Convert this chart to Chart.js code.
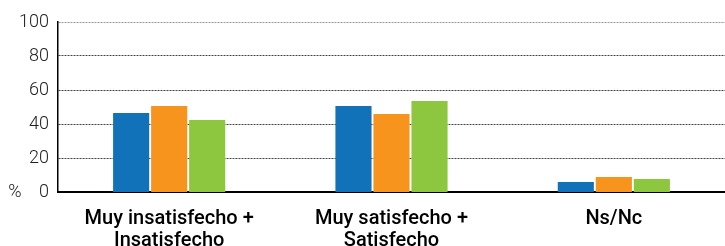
<!DOCTYPE html>
<html>
<head>
<meta charset="utf-8">
<script src="https://cdn.jsdelivr.net/npm/chart.js@4"></script>
<style>
  html, body { margin: 0; padding: 0; background: #fff; }
  #wrap { width: 725px; height: 246px; }
</style>
</head>
<body>
<div id="wrap"><canvas id="chart"></canvas></div>
<script>
// datos
const categories = [
  ['Muy insatisfecho +', 'Insatisfecho'],
  ['Muy satisfecho +', 'Satisfecho'],
  ['Ns/Nc']
];
const serieAzul = [46.5, 50.6, 5.9];
const serieNaranja = [50.6, 45.9, 8.8];
const serieVerde = [42.4, 53.5, 7.6];
const yTicks = [0, 20, 40, 60, 80, 100];

const ctx = document.getElementById('chart').getContext('2d');
new Chart(ctx, {
  type: 'bar',
  data: {
    labels: categories,
    datasets: [
      { data: serieAzul, backgroundColor: '#1172ba' },
      { data: serieNaranja, backgroundColor: '#f7941e' },
      { data: serieVerde, backgroundColor: '#8dc63f' }
    ]
  },
  options: {
    responsive: true,
    maintainAspectRatio: false,
    animation: false,
    layout: { padding: { top: 22, right: 0, bottom: 0, left: 0 } },
    plugins: { legend: { display: false }, tooltip: { enabled: false } },
    datasets: { bar: { categoryPercentage: 0.513, barPercentage: 0.95 } },
    scales: {
      x: {
        grid: { display: false },
        border: { color: '#000', width: 2 },
        ticks: {
          color: '#000',
          padding: 8,
          maxRotation: 0,
          font: { family: 'Roboto', size: 20, weight: '500', lineHeight: 1.1 }
        },
        afterFit: function(axis) { axis.height = 54; }
      },
      y: {
        min: 0,
        max: 100,
        afterBuildTicks: function(axis) {
          axis.ticks = yTicks.map(v => ({ value: v }));
        },
        grid: {
          color: function(c) { return c.tick.value === 100 ? '#999' : '#444'; },
          lineWidth: function(c) { return c.tick.value === 0 ? 0 : 1; },
          drawTicks: false
        },
        // en v4 el dash del borde se aplica a las lineas de la rejilla
        border: { color: '#000', width: 1.5, dash: [2, 1] },
        ticks: {
          color: '#222',
          padding: 9,
          font: { family: 'Roboto', size: 18, weight: '300' },
          callback: function(v) { return v === 0 ? '%    0' : String(v); }
        },
        afterFit: function(axis) { axis.width = 58; }
      }
    }
  }
});
</script>
</body>
</html>
